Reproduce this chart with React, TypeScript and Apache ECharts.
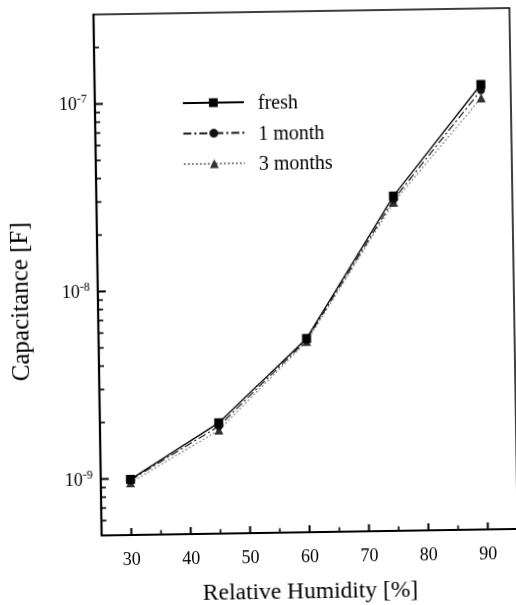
import React, { useEffect, useRef } from 'react';
import * as echarts from 'echarts';

const humidity = [30, 45, 60, 75, 90];
const fresh = [0.99e-9, 1.95e-9, 5.4e-9, 3.05e-8, 1.18e-7];
const oneMonth = [0.98e-9, 1.87e-9, 5.3e-9, 2.92e-8, 1.1e-7];
const threeMonths = [0.95e-9, 1.78e-9, 5.2e-9, 2.82e-8, 1.0e-7];
const seriesNames = ['fresh', '1 month', '3 months'];
const xMajorTicks = [30, 40, 50, 60, 70, 80, 90];
const xMinorTicks = [35, 45, 55, 65, 75, 85];
const yMajorTicks = [1e-9, 1e-8, 1e-7];
const yMinorTicks = [
  6e-10, 7e-10, 8e-10, 9e-10,
  2e-9, 3e-9, 4e-9, 5e-9, 6e-9, 7e-9, 8e-9, 9e-9,
  2e-8, 3e-8, 4e-8, 5e-8, 6e-8, 7e-8, 8e-8, 9e-8,
  2e-7,
];
const X_MIN = 25;
const X_MAX = 95;
const Y_MIN = 5e-10;
const Y_MAX = 3e-7;
const xTitle = 'Relative Humidity [%]';
const yTitle = 'Capacitance [F]';

const FONT = "'Liberation Serif', 'Times New Roman', serif";

function pairs(ys: number[]) {
  return humidity.map((x, i) => [x, ys[i]]);
}

function tickSeries(name: string, data: number[][], size: number[], offset: number[]) {
  return {
    name,
    type: 'scatter',
    silent: true,
    clip: false,
    z: 10,
    symbol: 'rect',
    symbolSize: size,
    symbolOffset: offset,
    itemStyle: { color: '#000', opacity: 1 },
    emphasis: { disabled: true },
    tooltip: { show: false },
    data,
  };
}

export default function App() {
  const ref = useRef<HTMLDivElement>(null);
  useEffect(() => {
    if (!ref.current) return;
    const chart = echarts.init(ref.current, undefined, { renderer: 'svg' });
    chart.setOption({
      animation: false,
      backgroundColor: '#fff',
      grid: {
        left: 98,
        top: 12,
        width: 416,
        height: 521,
        show: true,
        borderColor: '#000',
        borderWidth: 1.5,
        backgroundColor: 'transparent',
      },
      legend: {
        orient: 'vertical',
        left: 180,
        top: 87,
        itemWidth: 61,
        itemHeight: 11,
        itemGap: 10.5,
        data: seriesNames,
        textStyle: {
          fontFamily: FONT,
          fontSize: 20,
          color: '#000',
          lineHeight: 20,
          padding: [0, 0, 0, 9],
        },
      },
      xAxis: {
        type: 'value',
        min: X_MIN,
        max: X_MAX,
        position: 'bottom',
        splitLine: { show: false },
        axisLine: { show: true, onZero: false, lineStyle: { color: '#000', width: 1.8 } },
        axisTick: { show: false },
        axisLabel: {
          show: true,
          customValues: xMajorTicks,
          fontFamily: FONT,
          fontSize: 18,
          color: '#000',
          margin: 15,
        },
      },
      yAxis: {
        type: 'log',
        min: Y_MIN,
        max: Y_MAX,
        position: 'left',
        splitLine: { show: false },
        axisLine: { show: true, onZero: false, lineStyle: { color: '#000', width: 2.2 } },
        axisTick: { show: false },
        axisLabel: {
          show: true,
          customValues: yMajorTicks,
          margin: 8,
          color: '#000',
          fontFamily: FONT,
          fontSize: 18,
          formatter: (v: number) => `{b|10}{s|${Math.round(Math.log10(v))}}`,
          rich: {
            b: { fontFamily: FONT, fontSize: 18, color: '#000', lineHeight: 20 },
            s: { fontFamily: FONT, fontSize: 12, color: '#000', padding: [0, 0, 10, 0] },
          },
        },
      },
      graphic: [
        {
          type: 'text',
          x: 306,
          y: 591,
          style: { text: xTitle, fontFamily: FONT, fontSize: 23.5, fill: '#000', align: 'center', verticalAlign: 'middle' },
        },
        {
          type: 'text',
          x: 19,
          y: 298,
          rotation: Math.PI / 2,
          style: { text: yTitle, fontFamily: FONT, fontSize: 25, fill: '#000', align: 'center', verticalAlign: 'middle' },
        },
      ],
      series: [
        {
          name: seriesNames[0],
          type: 'line',
          data: pairs(fresh),
          symbol: 'rect',
          symbolSize: 9,
          z: 4,
          lineStyle: { color: '#000', width: 1.3, type: 'solid' },
          itemStyle: { color: '#000' },
        },
        {
          name: seriesNames[1],
          type: 'line',
          data: pairs(oneMonth),
          symbol: 'circle',
          symbolSize: 8,
          z: 3,
          lineStyle: { color: '#1a1a1a', width: 1.2, type: [8, 3, 2, 3] },
          itemStyle: { color: '#111' },
        },
        {
          name: seriesNames[2],
          type: 'line',
          data: pairs(threeMonths),
          symbol: 'triangle',
          symbolSize: 9,
          z: 2,
          lineStyle: { color: '#888', width: 1.2, type: [2, 2] },
          itemStyle: { color: '#333' },
        },
        tickSeries('xMajorTicks', xMajorTicks.map((v) => [v, Y_MIN]), [2, 7], [0, -3.5]),
        tickSeries('xMinorTicks', xMinorTicks.map((v) => [v, Y_MIN]), [1.6, 4.5], [0, -2.25]),
        tickSeries('yMajorTicks', yMajorTicks.map((v) => [X_MIN, v]), [8, 2], [4, 0]),
        tickSeries('yMinorTicks', yMinorTicks.map((v) => [X_MIN, v]), [5, 1.6], [2.5, 0]),
      ],
    });
    return () => chart.dispose();
  }, []);
  return (
    <div
      ref={ref}
      style={{
        position: 'fixed',
        left: 0,
        top: 0,
        width: 516,
        height: 605,
        background: '#fff',
        transform: 'rotate(-0.9deg)',
        transformOrigin: '50% 50%',
      }}
    />
  );
}
